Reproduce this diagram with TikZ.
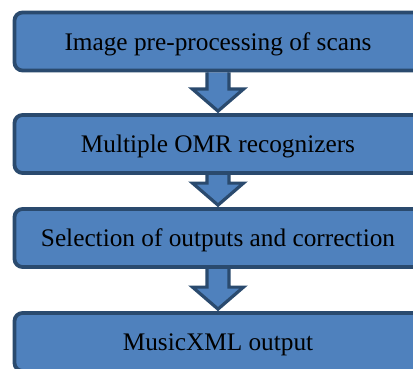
\documentclass[tikz,border=0pt]{standalone}
\usepackage{fontspec}
\setmainfont{Liberation Serif}
\usetikzlibrary{calc}
\pgfdeclarelayer{background}
\pgfsetlayers{background,main}
\definecolor{boxfill}{HTML}{4F81BD}
\definecolor{boxline}{HTML}{2A4A6E}
\begin{document}
\begin{tikzpicture}[x=1pt,y=-1pt,
  stagebox/.style={draw=boxline,fill=boxfill,line width=3.8pt,rounded corners=8pt,
    minimum width=407pt,minimum height=58pt,inner sep=0pt,
    text height=17.4pt,text depth=0pt,
    font=\fontsize{25.3pt}{30pt}\selectfont,text=black},
  blockarr/.style={draw=boxline,fill=boxfill,line width=3.2pt,line join=miter}]
\useasboundingbox (0,0) rectangle (413,369);
\clip (0,0) rectangle (413,369);
\node[stagebox] (s1) at (218,41.5) {Image pre-processing of scans};
\node[stagebox] (s2) at (218,144) {Multiple OMR recognizers};
\node[stagebox] (s3) at (218,238) {Selection of outputs and correction};
\node[stagebox] (s4) at (218,342) {MusicXML output};
\begin{pgfonlayer}{background}
\fill[white] (0,0) rectangle (413,369);
\foreach \a/\b in {s1/s2,s2/s3,s3/s4}{
  \draw[blockarr] ($(\a.south)+(-11,0)$) -- ($(\b.north)+(-11,-24)$) -- ($(\b.north)+(-25.5,-24)$)
    -- ($(\b.north)+(0,-2)$) -- ($(\b.north)+(25.5,-24)$) -- ($(\b.north)+(11,-24)$)
    -- ($(\a.south)+(11,0)$);
}
\end{pgfonlayer}
\end{tikzpicture}
\end{document}
